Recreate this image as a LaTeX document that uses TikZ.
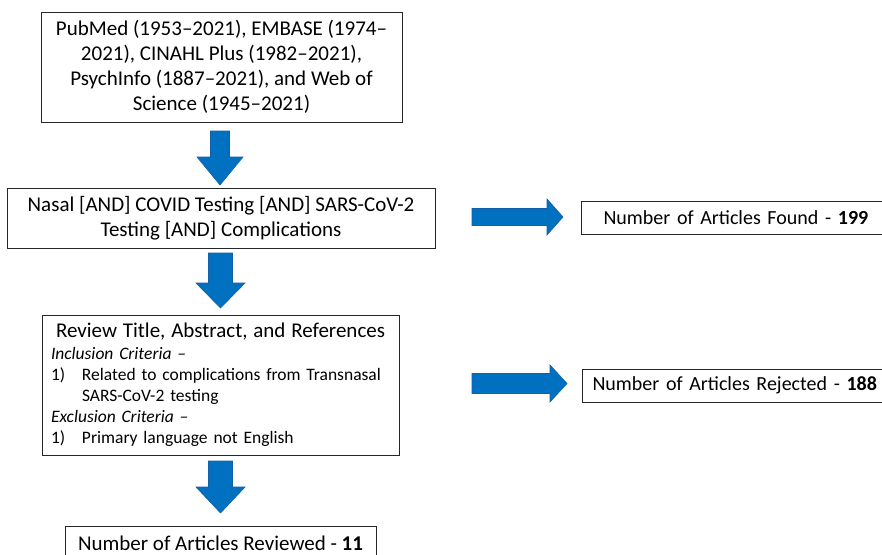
\documentclass[tikz,border=0pt]{standalone}
\usepackage{fontspec}
\setmainfont{Carlito}
\definecolor{arrowblue}{RGB}{0,112,192}
\definecolor{arrowedge}{RGB}{20,95,165}
\newcommand\blkdown[6]{\fill[blk] ({#1-#5},#2) -- ({#1+#5},#2) -- ({#1+#5},#3) -- ({#1+#6},#3) -- (#1,#4) -- ({#1-#6},#3) -- ({#1-#5},#3) -- cycle;}
\newcommand\blkright[6]{\fill[blk] (#2,{#1-#5}) -- (#3,{#1-#5}) -- (#3,{#1-#6}) -- (#4,#1) -- (#3,{#1+#6}) -- (#3,{#1+#5}) -- (#2,{#1+#5}) -- cycle;}
\begin{document}
\begin{tikzpicture}[x=1pt,y=-1pt,
  box/.style={draw=black!85, line width=1pt, fill=white, inner sep=0pt, align=center},
  big/.style={font=\fontsize{21}{25}\selectfont},
  mid/.style={font=\fontsize{20}{24}\selectfont},
  blk/.style={fill=arrowblue, draw=arrowedge, line width=0.6pt}]
\clip (0,0) rectangle (882,554);
\fill[white] (0,0) rectangle (882,554);

\node[box, big, minimum width=361pt, minimum height=110pt] (src) at (221.5,67)
  {PubMed (1953–2021), EMBASE (1974–\\2021), CINAHL Plus (1982–2021),\\PsychInfo (1887–2021), and Web of\\Science (1945–2021)};

\node[box, big, minimum width=428pt, minimum height=60pt] (query) at (221,218)
  {Nasal [AND] COVID Testing [AND] SARS-CoV-2\\Testing [AND] Complications};

\node[box, minimum width=357pt, minimum height=140pt, text width=339pt, align=left,
      font=\fontsize{17.5}{21}\selectfont] (review) at (220.5,385)
  {\makebox[\linewidth][c]{\fontsize{21}{23}\selectfont Review Title, Abstract, and References}\\[1pt]
   \textit{Inclusion Criteria –}\\
   \makebox[31pt][l]{1)}Related to complications from Transnasal\\
   \hspace*{31pt}SARS-CoV-2 testing\\
   \textit{Exclusion Criteria –}\\
   \makebox[31pt][l]{1)}Primary language not English};

\node[box, big, minimum width=311pt, minimum height=34pt] (reviewed) at (220.5,543)
  {Number of Articles Reviewed - \textbf{11}};

\node[box, mid, minimum height=33pt, anchor=west, text width=330pt, align=left] (found) at (581,218)
  {\hspace*{22pt}Number of Articles Found - \textbf{199}};

\node[box, mid, minimum height=33pt, anchor=west, text width=330pt, align=left] (rejected) at (582,385.5)
  {\hspace*{10pt}Number of Articles Rejected - \textbf{188}};

\blkdown{220}{131}{157}{185}{9.5}{23}
\blkdown{220.5}{253}{283}{308}{12}{24.5}
\blkdown{220.5}{461}{487}{513}{12}{24.5}
\blkright{217}{472}{547}{563}{8.5}{18}
\blkright{383.5}{472}{550}{567}{10}{18.5}
\end{tikzpicture}
\end{document}
